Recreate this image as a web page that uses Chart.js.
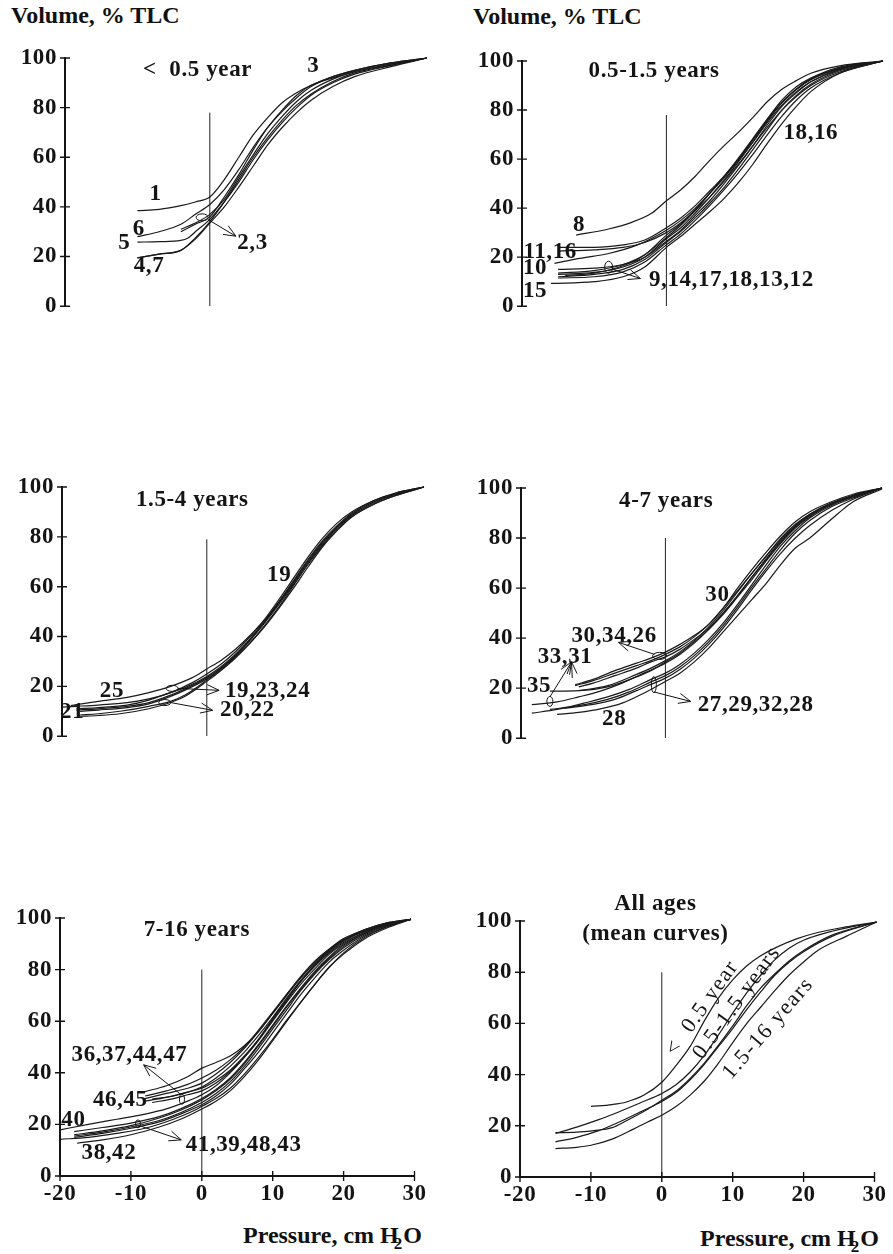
<!DOCTYPE html>
<html><head><meta charset="utf-8">
<script src="https://cdn.jsdelivr.net/npm/chart.js@4.4.0/dist/chart.umd.min.js"></script>
<style>
body{margin:0;background:#fff;width:893px;height:1254px;position:relative;overflow:hidden;font-family:"Liberation Serif","Times New Roman",serif;}
canvas{position:absolute}
.lbl{position:absolute;font-weight:bold;font-size:24px;line-height:24px;color:#111;white-space:nowrap}
.lbl sub{font-size:17px;vertical-align:-6px;margin-left:-5px;margin-right:1px}
</style></head><body>
<div class="lbl" style="left:11px;top:3px">Volume, % TLC</div>
<div class="lbl" style="left:473px;top:4px">Volume, % TLC</div>
<div class="lbl" style="left:243px;top:1223px">Pressure, cm H<sub>2</sub>O</div>
<div class="lbl" style="left:700px;top:1226px">Pressure, cm H<sub>2</sub>O</div>
<canvas id="c1"></canvas><canvas id="c2"></canvas><canvas id="c3"></canvas>
<canvas id="c4"></canvas><canvas id="c5"></canvas><canvas id="c6"></canvas>
<script>
// ---------- axis ticks ----------
const xTicks = [-20, -10, 0, 10, 20, 30];
const yTicks = [0, 20, 40, 60, 80, 100];
const zeroLineX = 0;

// ---------- panel 1: < 0.5 year ----------
const p1_c1 = [[-10,38.5],[-7,39],[-4,40.5],[-2,42],[0,44],[2,51],[4,60],[6,69],[8,76],[10,82],[12,86],[14,89],[17,92.5],[20,95],[25,98],[30,100]];
const p1_c2 = [[-4,31],[-2,33.5],[0,37],[2,43],[4,52],[6,61],[8,69.5],[10,76.5],[12,82.5],[14,87],[17,91.5],[20,94.5],[25,97.5],[30,100]];
const p1_c3 = [[-4,30],[-2,33],[0,36],[2,44],[4,53],[6,63],[8,72],[10,79],[12,85],[14,89],[17,92],[20,94.5],[25,97.5],[30,100]];
const p1_c4 = [[-10,19.5],[-7,21],[-4,22.5],[-2,27],[0,33.5],[2,40],[4,48],[6,56.5],[8,65],[10,72],[12,78],[14,83],[17,88.5],[20,92.5],[25,96.5],[30,100]];
const p1_c5 = [[-10,25.8],[-7,26],[-4,26.5],[-3,27.5],[-2,30],[0,35],[2,42],[4,50],[6,59],[8,67],[10,74],[12,80],[14,85],[17,90],[20,93.5],[25,97],[30,100]];
const p1_c6 = [[-10,28],[-7,30],[-4,33],[-2,37],[0,41],[2,47],[4,55],[6,64],[8,72],[10,78.5],[12,84],[14,88.5],[17,92.5],[20,95],[25,98],[30,100]];
const p1_c7 = [[-10,19.5],[-7,21],[-4,22.5],[-2,27.5],[0,34],[2,42],[4,51],[6,60],[8,68],[10,75],[12,81],[14,85.5],[17,90.5],[20,94],[25,97],[30,100]];
const p1Labels = [["<  0.5 year",-1.7,95.3],["1",-7.5,45],["6",-9.8,31.2],["5",-11.8,25.4],["4,7",-8.4,16.2],["2,3",5.9,25.4],["3",14.3,96.6]];
const p1Ellipses = [[-1.06,35.8,6,3.5]];
const p1Callouts = [[-0.3,35,3.6,28.2]];

// ---------- panel 2: 0.5-1.5 years ----------
const p2_c8  = [[-12.5,29],[-8,31.5],[-5,34],[-2,38],[0,43],[2,47.5],[4,53],[6,59.5],[8,65.5],[10,71],[12,77],[14,83.5],[16,88.5],[18,92],[20,95],[24,98],[30,100]];
const p2_c11 = [[-15,24],[-10,24],[-6,25],[-3,27],[0,32],[2,36],[4,41],[6,47],[8,53],[10,60],[12,68],[14,76],[16,83],[18,88.5],[20,92.5],[24,97],[30,100]];
const p2_c16 = [[-15,22.5],[-10,23],[-6,24],[-3,26],[0,30],[2,34],[4,39],[6,44.5],[8,51],[10,58],[12,65.5],[14,73],[16,80],[18,85.5],[20,90],[24,95.5],[30,100]];
const p2_c10 = [[-15.5,17.5],[-12,19.5],[-8,21.5],[-4,25],[0,31],[2,35],[4,40],[6,46],[8,52.5],[10,59.5],[12,67],[14,75],[16,82],[18,87.5],[20,91.5],[24,96.5],[30,100]];
const p2_c9  = [[-15,15],[-10,15.5],[-6,17],[-3,20],[0,26.5],[2,31],[4,37],[6,43],[8,50],[10,57.5],[12,65.5],[14,74],[16,81.5],[18,87],[20,91.5],[24,96.5],[30,100]];
const p2_c14 = [[-15,13],[-10,13.8],[-6,16],[-3,20],[0,27.5],[2,32],[4,38],[6,44.5],[8,51.5],[10,59],[12,67],[14,75.5],[16,83],[18,88.5],[20,92.5],[24,97],[30,100]];
const p2_c17 = [[-15,12],[-10,13],[-6,15],[-3,19],[0,26],[2,30.5],[4,36],[6,42],[8,48.5],[10,56],[12,64],[14,72],[16,80],[18,86],[20,90.5],[24,96],[30,100]];
const p2_c18 = [[-15,11.5],[-10,12],[-6,14],[-3,18],[0,25],[2,29.5],[4,35],[6,41],[8,47.5],[10,54.5],[12,62],[14,70],[16,77.5],[18,84],[20,89],[24,95],[30,100]];
const p2_c13 = [[-15,13.5],[-10,14.5],[-6,17],[-3,21],[0,28],[2,33],[4,39],[6,46],[8,53],[10,60.5],[12,68.5],[14,76.5],[16,84],[18,89.5],[20,93],[24,97.5],[30,100]];
const p2_c12 = [[-14,12.5],[-10,13.5],[-6,16.5],[-3,21],[0,29],[2,33.5],[4,39.5],[6,46],[8,52.5],[10,60],[12,68],[14,76],[16,83],[18,88.5],[20,92.5],[24,97],[30,100]];
const p2_c15 = [[-16,9.3],[-10,10],[-6,12],[-3,16],[0,24],[2,28.5],[4,33.5],[6,38.5],[8,44],[10,50.5],[12,58],[14,66.5],[16,74.5],[18,81.5],[20,87.5],[24,95],[30,100]];
const p2Labels = [["0.5-1.5 years",-1.7,96],["8",-12.1,33.1],["11,16",-16.1,21.9],["10",-18.2,15.6],["15",-18.2,6],["18,16",20,70.5],["9,14,17,18,13,12",9.0,10.6]];
const p2Ellipses = [[-8,15.9,4,6]];
const p2Callouts = [[-7.4,15,-3.6,11.3]];

// ---------- panel 3: 1.5-4 years ----------
const p3_c25 = [[-18.8,12.3],[-15,14],[-11,15.6],[-8,17.5],[-5,20],[-2,23.5],[0,27],[2,30.5],[4,35],[6,40.5],[8,47],[10,55],[12,63.5],[14,72],[16,79.5],[18,85.5],[20,90],[23,94.5],[26,97.5],[30,100]];
const p3_c21 = [[-20,11.7],[-18,12],[-15,12.5],[-11,13.5],[-8,15],[-5,17.5],[-2,21.5],[0,25],[2,29],[4,34],[6,40],[8,46.5],[10,54],[12,62],[14,70.5],[16,78],[18,84],[20,89],[23,94],[26,97],[30,100]];
const p3_c19 = [[-18,11],[-15,11.5],[-11,12.5],[-8,14.5],[-5,17.5],[-3,19.5],[0,24],[2,28],[4,33],[6,39],[8,46],[10,54],[12,62.5],[14,71],[16,78.5],[18,84.5],[20,89.5],[23,94.5],[26,97.5],[30,100]];
const p3_c23 = [[-18,10.5],[-15,11],[-11,12],[-8,13.5],[-5,16.5],[-3,19],[0,23.5],[2,27.5],[4,32.5],[6,38.5],[8,45.5],[10,53],[12,61],[14,69.5],[16,77],[18,83.5],[20,88.5],[23,93.5],[26,97],[30,100]];
const p3_c24 = [[-17.5,10],[-15,10.5],[-11,11.5],[-8,13],[-5,16],[-3,18.5],[0,23],[2,27],[4,32],[6,37.5],[8,44],[10,51.5],[12,59.5],[14,68],[16,76],[18,82.5],[20,88],[23,93],[26,96.5],[30,100]];
const p3_c20 = [[-17.5,8],[-15,8.3],[-12,9],[-8,11],[-5,13.5],[-3,16],[0,22],[2,26.5],[4,31.5],[6,37.5],[8,44.5],[10,52],[12,60.5],[14,69],[16,76.5],[18,83],[20,88],[23,93],[26,96.5],[30,100]];
const p3_c22 = [[-17.5,8.5],[-15,9],[-12,10],[-8,12],[-5,14],[-3,16.5],[0,22.5],[2,27],[4,32.5],[6,39],[8,46],[10,53.5],[12,61.5],[14,70],[16,77.5],[18,84],[20,89],[23,94],[26,97],[30,100]];
const p3Labels = [["1.5-4 years",-2,94.8],["19",10,64.7],["25",-13.1,18.2],["21",-18.6,9.7],["19,23,24",8.4,18.2],["20,22",5.6,10.4]];
const p3Ellipses = [[-4.8,19.2,6,3],[-5.8,13.5,6,3]];
const p3Callouts = [[-4,19.2,1.7,18.4],[-5,13.5,0.8,10.4]];

// ---------- panel 4: 4-7 years ----------
const p4_c30 = [[-12.5,21.4],[-10,23.5],[-7,27],[-4,30],[-2,32],[0,34.4],[2,37.5],[4,41],[6,45.5],[8,52],[10,60],[12,67.5],[14,74.5],[16,81],[18,86.5],[20,90.5],[23,94.5],[26,97.5],[30,100]];
const p4_c34 = [[-12.5,21],[-10,23],[-7,26],[-4,29],[-2,31],[0,33.5],[2,36.5],[4,40.5],[6,45.5],[8,52],[10,59],[12,66],[14,73],[16,80],[18,85.5],[20,89.5],[23,94],[26,97],[30,100]];
const p4_c26 = [[-12,20.5],[-10,22],[-7,25],[-4,28],[-2,30.5],[0,32.5],[2,35.5],[4,39.5],[6,44],[8,50],[10,57],[12,64.5],[14,71.5],[16,78.5],[18,84.5],[20,89],[23,93.5],[26,96.5],[30,100]];
const p4_c33 = [[-16,18.8],[-12,19],[-8,20.5],[-4,24.5],[-2,27],[0,30.5],[2,34],[4,38.5],[6,43.5],[8,49.5],[10,56.5],[12,63.5],[14,71],[16,78],[18,84],[20,88.5],[23,93.5],[26,96.5],[30,100]];
const p4_c31 = [[-12,19],[-8,21],[-4,25.5],[-2,28],[0,31],[2,34.5],[4,39],[6,44.5],[8,51],[10,58.5],[12,66],[14,73],[16,79.5],[18,85],[20,89.5],[23,94],[26,97],[30,100]];
const p4_c35 = [[-18.5,13.4],[-15,14.5],[-12,16.5],[-9,18.8],[-6,22],[-3,26],[0,30],[2,33.5],[4,38],[6,43.5],[8,50],[10,57],[12,64.5],[14,72],[16,79],[18,84.5],[20,89],[23,93.5],[26,97],[30,100]];
const p4_c27 = [[-18.5,10],[-15,11.5],[-11.3,14],[-8,16.5],[-5,19.5],[-2,23.5],[0,26],[2,29.5],[4,34],[6,39.5],[8,46],[10,53.5],[12,61.5],[14,69.5],[16,77],[18,83],[20,88],[23,93],[26,96.5],[30,100]];
const p4_c29 = [[-16,11.5],[-12,13],[-8,15.5],[-5,18.5],[-2,22.5],[0,25],[2,28.5],[4,33],[6,38.5],[8,45],[10,52.5],[12,60.5],[14,68],[16,75.5],[18,82],[20,87],[23,92.5],[26,96],[30,100]];
const p4_c32 = [[-14,12],[-10,13.5],[-7,15.5],[-4,19],[-2,21.5],[0,24],[2,27.5],[4,32],[6,37.5],[8,44],[10,51.5],[12,59.5],[14,67],[16,74],[18,80],[20,85],[23,91],[26,95.5],[30,100]];
const p4_c28 = [[-15,9.5],[-12,10.3],[-9,11.7],[-6,14],[-3,18],[0,22.7],[2,26],[4,30.5],[6,36],[8,42.5],[10,49],[12,55.5],[14,62],[16,69.5],[18,76],[20,80],[22,85],[24,90],[26,94.5],[30,99.6]];
const p4Labels = [["4-7 years",0.1,94.8],["30",7.2,57.1],["30,34,26",-7.1,40.9],["33,31",-13.9,32.5],["35",-17.5,20.8],["28",-7.1,7.8],["27,29,32,28",12.5,13.4]];
const p4Ellipses = [[-0.8,32.9,7,3.5],[-16,14.7,3,5],[-1.6,21.4,2.5,8]];
const p4Callouts = [[-1.5,33.5,-6.5,38.3],[-16,16.5,-13,30.5],[-12.9,24,-13,30.5],[-1.6,18.5,3.5,14.7]];

// ---------- panel 5: 7-16 years ----------
const p5_c36 = [[-8,32.7],[-5,35],[-2,38.5],[0,41.8],[2,44],[4,46.5],[6,50.5],[8,56],[10,63],[12,70],[14,77],[16,82.5],[18,87.5],[20,91.5],[23,95],[26,97.5],[29.5,99.5]];
const p5_c37 = [[-8,31],[-5,33],[-2,35.5],[0,38],[2,41],[4,45],[6,50],[8,56.5],[10,63.5],[12,70.5],[14,77],[16,83],[18,88],[20,92],[23,95.5],[26,98],[29.5,99.5]];
const p5_c44 = [[-8,30],[-5,32],[-2,34],[0,36],[2,39.5],[4,44],[6,49.5],[8,56],[10,63],[12,70.5],[14,77.5],[16,83.5],[18,88],[20,91.5],[23,95],[26,97.5],[29.5,99.5]];
const p5_c47 = [[-8,29],[-5,30.5],[-2,32.5],[0,34.5],[2,38],[4,42.5],[6,48],[8,54.5],[10,61.5],[12,69],[14,76],[16,82],[18,87],[20,91],[23,95],[26,97.5],[29.5,99.5]];
const p5_c46 = [[-7,29.8],[-4,31],[-2,32.5],[0,34],[2,37],[4,41],[6,46.5],[8,53],[10,60.5],[12,68],[14,75.5],[16,82],[18,87.5],[20,91.5],[23,95.5],[26,98],[29.5,99.5]];
const p5_c45 = [[-7,28.5],[-4,30],[-2,31.5],[0,33],[2,36],[4,40.5],[6,46],[8,52.5],[10,60],[12,67.5],[14,74.5],[16,80.5],[18,86],[20,90],[23,94.5],[26,97.5],[29.5,99.5]];
const p5_c40 = [[-20,17.9],[-16,20],[-12,22],[-8,24],[-5,26],[-2,29],[0,31.5],[2,35],[4,40],[6,46],[8,53],[10,61],[12,68.5],[14,75.5],[16,81.5],[18,86.5],[20,90.5],[23,94.5],[26,97.5],[29.5,99.5]];
const p5_c41 = [[-18,17.2],[-14,18.8],[-10,20.5],[-6,23],[-3,26],[0,30],[2,33.5],[4,38],[6,44],[8,51],[10,58.5],[12,66],[14,73],[16,79.5],[18,85],[20,89.5],[23,94],[26,97],[29.5,99.5]];
const p5_c39 = [[-18,16],[-14,17.5],[-10,19.5],[-6,22.5],[-3,25.5],[0,29.5],[2,33],[4,37.5],[6,43.5],[8,50.5],[10,58],[12,65.5],[14,72.5],[16,79],[18,84.5],[20,89],[23,94],[26,97],[29.5,99.5]];
const p5_c48 = [[-18,15.5],[-14,17],[-10,19],[-6,21.5],[-3,24.5],[0,28.5],[2,32],[4,36.5],[6,42.5],[8,49.5],[10,57],[12,64.5],[14,72],[16,78.5],[18,84],[20,88.5],[23,93.5],[26,97],[29.5,99.5]];
const p5_c43 = [[-18,15],[-14,16.5],[-10,18.5],[-6,21],[-3,24],[0,27.6],[2,31],[4,35.5],[6,41.5],[8,48],[10,55.5],[12,63],[14,70.5],[16,77],[18,83],[20,87.5],[23,93],[26,96.5],[29.5,99.5]];
const p5_c38 = [[-20,14.2],[-16,15],[-12,16.5],[-8,18.5],[-4,22],[-1,25.5],[0,27],[2,30],[4,34],[6,39.5],[8,46],[10,53],[12,60.5],[14,67.5],[16,74.5],[18,81],[20,86],[23,92],[26,96],[29.5,99.5]];
const p5_c42 = [[-17.6,12.7],[-14,14],[-10,16],[-6,19],[-3,22],[0,26],[2,29],[4,33],[6,38.5],[8,45],[10,52.5],[12,60],[14,67.5],[16,74.5],[18,81],[20,86.5],[23,92.5],[26,96.5],[29.5,99.5]];
const p5Labels = [["7-16 years",-0.7,95.5],["36,37,44,47",-10.2,47],["46,45",-11.5,29.5],["40",-18.1,21.7],["38,42",-13.1,8.8],["41,39,48,43",5.9,12]];
const p5Ellipses = [[-2.8,29.8,2.5,5],[-9,20.2,2.5,4]];
const p5Callouts = [[-2.9,31.5,-8.2,43.1],[-8.8,19.5,-2.9,14]];

// ---------- panel 6: all ages, mean curves ----------
const p6_lt05  = [[-10,27.6],[-7,28.3],[-5,29.3],[-2.5,32],[0,37],[2,43.5],[4,51],[6,61],[8,70],[10,77],[12,82.5],[14,86.5],[16,89.5],[19,93],[22,95.5],[26,97.7],[30.3,99.6]];
const p6_05_15 = [[-15,17],[-12,19.5],[-9,22.3],[-6,25.5],[-3,29],[0,32.6],[2,36],[4,41],[6,47.5],[8,55.5],[10,64],[12,72],[14,79],[16,85],[18,89.5],[20,92.5],[24,96],[30.3,99.6]];
const p6_15_4  = [[-15,17.3],[-12,17.5],[-9,18.3],[-7,19.3],[-5,22],[-2,26.5],[0,30],[2,33.5],[4,38.5],[6,44.5],[8,51.5],[10,59],[12,67],[14,74],[16,79.5],[18,84.5],[20,88.5],[24,94.5],[30.3,99.6]];
const p6_4_7   = [[-15,13.7],[-12,15.5],[-9,18],[-6,21.5],[-3,25.5],[0,29.5],[2,33],[4,38],[6,44],[8,51],[10,58],[12,65.5],[14,72.5],[16,79],[18,84],[20,88],[24,94],[30.3,99.6]];
const p6_7_16  = [[-15,11.1],[-12,11.6],[-10,12.4],[-7,14.8],[-4,18.7],[-2,21.5],[0,24.1],[2,27.5],[4,32],[6,37.5],[8,44.5],[10,52.5],[12,60],[14,66.5],[16,73],[18,79],[20,84],[22,88.5],[26,94],[30.3,99.6]];
const p6Labels = [["All ages",-0.9,106.5],["(mean curves)",-0.9,95]];
const p6RotLabels = [["<  0.5 year",5.7,66,55],["0.5-1.5 years",10.6,68.1,54],["1.5-16 years",15,58,49]];

const INK = '#141414';
const FONT = '"Liberation Serif","Times New Roman",serif';

const panels = [
  {id:'c1',L:65,T:58,R:427,B:313,bottom:false,vTop:78,curves:[p1_c1,p1_c2,p1_c3,p1_c4,p1_c5,p1_c6,p1_c7],labels:p1Labels,ellipses:p1Ellipses,callouts:p1Callouts},
  {id:'c2',L:522,T:61,R:883,B:313,bottom:false,vTop:78,curves:[p2_c8,p2_c11,p2_c16,p2_c10,p2_c9,p2_c14,p2_c17,p2_c18,p2_c13,p2_c12,p2_c15],labels:p2Labels,ellipses:p2Ellipses,callouts:p2Callouts},
  {id:'c3',L:62,T:487,R:424,B:743,bottom:false,vTop:79,curves:[p3_c25,p3_c21,p3_c19,p3_c23,p3_c24,p3_c20,p3_c22],labels:p3Labels,ellipses:p3Ellipses,callouts:p3Callouts},
  {id:'c4',L:521,T:488,R:882,B:745,bottom:false,vTop:80,curves:[p4_c30,p4_c34,p4_c26,p4_c33,p4_c31,p4_c35,p4_c27,p4_c29,p4_c32,p4_c28],labels:p4Labels,ellipses:p4Ellipses,callouts:p4Callouts},
  {id:'c5',L:60,T:918,R:420,B:1176,bottom:true,vTop:80,curves:[p5_c36,p5_c37,p5_c44,p5_c47,p5_c46,p5_c45,p5_c40,p5_c41,p5_c39,p5_c48,p5_c43,p5_c38,p5_c42],labels:p5Labels,ellipses:p5Ellipses,callouts:p5Callouts},
  {id:'c6',L:520,T:921,R:880,B:1177,bottom:true,vTop:80,curves:[p6_lt05,p6_05_15,p6_15_4,p6_4_7,p6_7_16],labels:p6Labels,ellipses:[],callouts:[],rot:p6RotLabels}
];

const PADL = 62, PADT = 45, PADR = 10, XH = 48, PADB = 15;
const FSIZE = 23, LSP = '0.6px';

function decorPlugin(p){
  return {
    id:'decor',
    beforeDraw(chart){ chart.ctx.letterSpacing = LSP; },
    afterDraw(chart){
      const ctx = chart.ctx, a = chart.chartArea, xs = chart.scales.x, ys = chart.scales.y;
      const X = v => xs.getPixelForValue(v), Y = v => ys.getPixelForValue(v);
      ctx.save();
      ctx.strokeStyle = INK; ctx.lineWidth = 1.4;
      ctx.beginPath();
      yTicks.forEach(v => { const py = Y(v); ctx.moveTo(a.left-5, py); ctx.lineTo(a.left+5, py); });
      if (p.bottom) xTicks.forEach(v => { const px = X(v); ctx.moveTo(px, a.bottom-5); ctx.lineTo(px, a.bottom+5); });
      ctx.stroke();
      ctx.lineWidth = 1;
      p.ellipses.forEach(e => { ctx.beginPath(); ctx.ellipse(X(e[0]), Y(e[1]), e[2], e[3], 0, 0, Math.PI*2); ctx.stroke(); });
      p.callouts.forEach(c => {
        const x1 = X(c[0]), y1 = Y(c[1]), x2 = X(c[2]), y2 = Y(c[3]);
        const ang = Math.atan2(y2-y1, x2-x1);
        ctx.beginPath();
        ctx.moveTo(x1, y1); ctx.lineTo(x2, y2);
        ctx.moveTo(x2, y2); ctx.lineTo(x2-13*Math.cos(ang-0.4), y2-13*Math.sin(ang-0.4));
        ctx.moveTo(x2, y2); ctx.lineTo(x2-13*Math.cos(ang+0.4), y2-13*Math.sin(ang+0.4));
        ctx.stroke();
      });
      ctx.fillStyle = INK; ctx.textAlign = 'center'; ctx.textBaseline = 'middle';
      ctx.letterSpacing = LSP;
      ctx.font = 'bold ' + FSIZE + 'px ' + FONT;
      p.labels.forEach(l => ctx.fillText(l[0], X(l[1]), Y(l[2])));
      ctx.font = '22px ' + FONT; ctx.letterSpacing = '1.5px';
      (p.rot || []).forEach(r => {
        ctx.save(); ctx.translate(X(r[1]), Y(r[2])); ctx.rotate(-r[3]*Math.PI/180);
        ctx.fillText(r[0], 0, 0); ctx.restore();
      });
      ctx.restore();
    }
  };
}

panels.forEach(p => {
  const cv = document.getElementById(p.id);
  const w = (p.R - p.L) + PADL + PADR;
  const h = (p.B - p.T) + PADT + (p.bottom ? XH : PADB);
  cv.width = w; cv.height = h;
  cv.style.left = (p.L - PADL) + 'px'; cv.style.top = (p.T - PADT) + 'px';
  cv.style.width = w + 'px'; cv.style.height = h + 'px';
  const ds = p.curves.map(c => ({
    data: c.map(q => ({x:q[0], y:q[1]})),
    borderColor: '#1a1a1a', borderWidth: 1.2, pointRadius: 0,
    tension: 0.4, cubicInterpolationMode: 'monotone', fill: false, clip: 4
  }));
  ds.push({data:[{x:zeroLineX,y:0},{x:zeroLineX,y:p.vTop}], borderColor:'#222', borderWidth:1, pointRadius:0, tension:0, fill:false});
  const tickFont = {family: FONT, size: FSIZE, weight: 'bold'};
  new Chart(cv, {
    type: 'line',
    data: {datasets: ds},
    options: {
      responsive: false, animation: false, devicePixelRatio: 1,
      layout: {padding: {left: 0, top: PADT, right: PADR, bottom: p.bottom ? 0 : PADB}},
      plugins: {legend: {display: false}, tooltip: {enabled: false}, title: {display: false}},
      scales: {
        x: {type: 'linear', min: -20, max: 30, display: p.bottom,
            afterFit: s => { s.height = p.bottom ? XH : 0; },
            ticks: {stepSize: 10, font: tickFont, color: INK, padding: 4, maxRotation: 0, autoSkip: false},
            grid: {display: false, drawTicks: false}, border: {display: true, color: INK, width: 2}},
        y: {type: 'linear', min: 0, max: 100,
            afterFit: s => { s.width = PADL; },
            ticks: {stepSize: 20, font: tickFont, color: INK, padding: 8},
            grid: {display: false, drawTicks: false}, border: {display: true, color: INK, width: 2}}
      }
    },
    plugins: [decorPlugin(p)]
  });
});
</script>
</body></html>
